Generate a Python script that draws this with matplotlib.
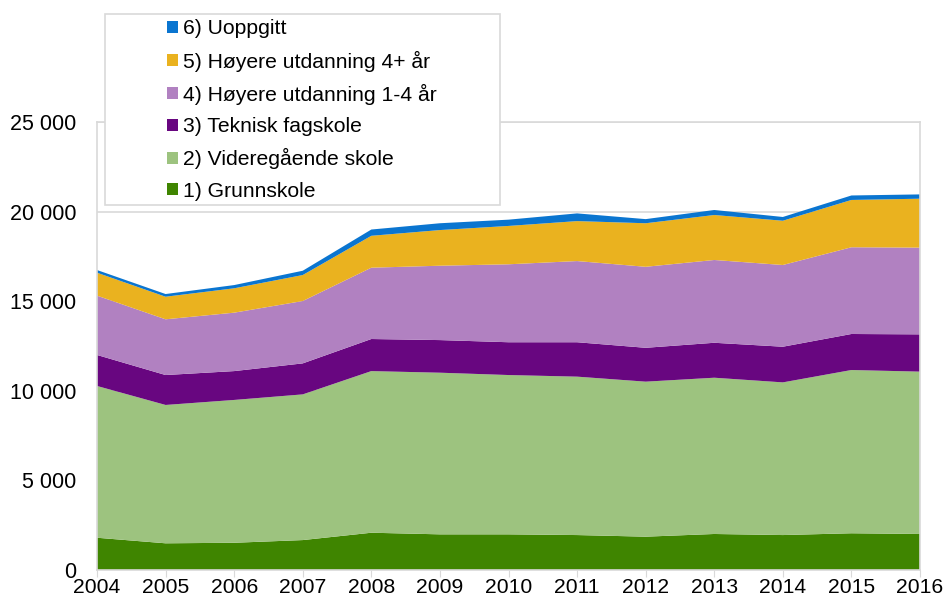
import numpy as np
import matplotlib
matplotlib.use("Agg")
import matplotlib.pyplot as plt
from matplotlib.patches import Rectangle
from matplotlib.ticker import FuncFormatter

plt.rcParams['font.family'] = ['Liberation Sans', 'DejaVu Sans']

# =============================================================================
# Data
# =============================================================================
years = list(range(2004, 2017))

grunnskole = [1800, 1490, 1520, 1670, 2080, 1990, 1990, 1950, 1860, 2010, 1950, 2050, 2010]
videregaende = [8470, 7720, 7970, 8130, 9020, 9020, 8890, 8840, 8650, 8720, 8520, 9110, 9060]
fagskole = [1730, 1670, 1610, 1730, 1790, 1820, 1830, 1920, 1890, 1950, 1990, 2010, 2080]
hoyere_1_4 = [3310, 3110, 3260, 3480, 3980, 4150, 4350, 4530, 4520, 4620, 4560, 4840, 4840]
hoyere_4 = [1280, 1260, 1360, 1450, 1780, 1990, 2140, 2230, 2430, 2510, 2470, 2640, 2730]
uoppgitt = [150, 150, 180, 240, 350, 380, 350, 430, 230, 280, 210, 250, 240]

labels = ["1) Grunnskole", "2) Videregående skole", "3) Teknisk fagskole",
          "4) Høyere utdanning 1-4 år", "5) Høyere utdanning 4+ år",
          "6) Uoppgitt"]
colors = ["#3f8500", "#9dc37f", "#680680", "#b181c1", "#eab21f", "#0a75d0"]

# =============================================================================
# Plotting
# =============================================================================
fig = plt.figure(figsize=(9.45, 5.97), dpi=100)
ax = fig.add_axes([97/945, 1 - 570/597, (920 - 97)/945, (570 - 122)/597])

polys = ax.stackplot(years, grunnskole, videregaende, fagskole, hoyere_1_4,
                     hoyere_4, uoppgitt, colors=colors, labels=labels,
                     linewidth=0, zorder=2)

ax.set_xlim(2004, 2016)
ax.set_ylim(0, 25000)
ax.set_xticks(years)
ax.set_yticks(np.arange(0, 25001, 5000))
ax.yaxis.set_major_formatter(FuncFormatter(lambda v, p: f"{int(v):,}".replace(",", " ")))
ax.tick_params(axis='x', labelsize=15.2, length=5, color='#d9d9d9', pad=1)
ax.tick_params(axis='y', labelsize=15.5, length=0, pad=15)

# Horizontal gridlines (hidden behind the areas)
ax.grid(axis='y', color='#d9d9d9', linewidth=1.2, zorder=0)
ax.set_axisbelow(True)

for side in ['left', 'top', 'right', 'bottom']:
    ax.spines[side].set_color('#d9d9d9')
    ax.spines[side].set_linewidth(1.2)

# Legend box (wider than the content, centred)
box = Rectangle((105/945, 1 - 205/597), (500 - 105)/945, (205 - 14)/597,
                transform=fig.transFigure, facecolor='white',
                edgecolor='#d9d9d9', linewidth=1.2, zorder=5)
fig.patches.append(box)

handles, labs = ax.get_legend_handles_labels()
leg = fig.legend(handles[::-1], labs[::-1], loc='center',
                 bbox_to_anchor=(302/945, 1 - 110/597), frameon=False,
                 fontsize=15.2, handlelength=0.5, handleheight=0.5,
                 handletextpad=0.25, labelspacing=0.58)
leg.set_zorder(6)

fig.savefig("out.png", dpi=100)
